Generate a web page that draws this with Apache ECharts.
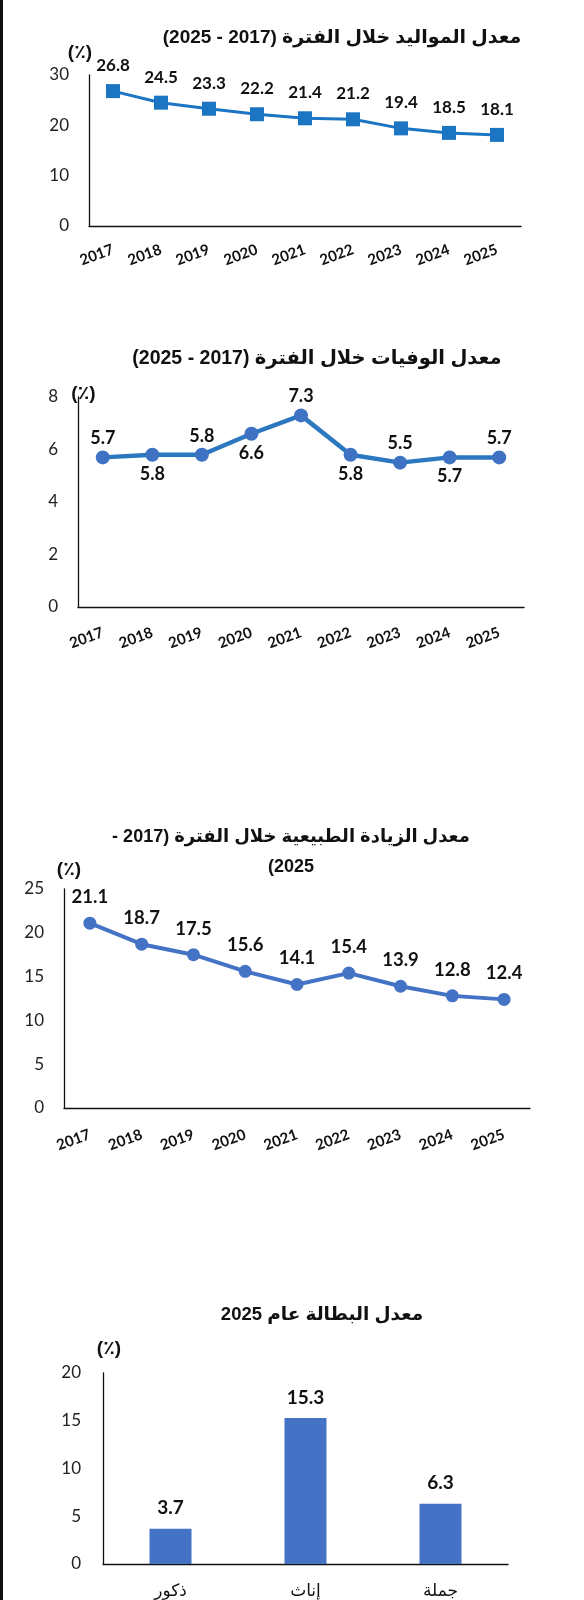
<!DOCTYPE html>
<html>
<head>
<meta charset="utf-8">
<script src="https://cdn.jsdelivr.net/npm/echarts@6/dist/echarts.min.js"></script>
<style>
  html, body { margin: 0; padding: 0; background: #fff; }
  #main { width: 584px; height: 1600px; direction: rtl; }
  .edge { position: absolute; left: 0; top: 0; width: 3px; height: 1600px; background: #111; }
</style>
</head>
<body>
<div id="main"></div>
<div class="edge"></div>
<script>
const years = ['2017', '2018', '2019', '2020', '2021', '2022', '2023', '2024', '2025'];
const birthRate = [26.8, 24.5, 23.3, 22.2, 21.4, 21.2, 19.4, 18.5, 18.1];
const deathRate = [5.7, 5.8, 5.8, 6.6, 7.3, 5.8, 5.5, 5.7, 5.7];
const naturalIncrease = [21.1, 18.7, 17.5, 15.6, 14.1, 15.4, 13.9, 12.8, 12.4];
const genderCats = ['ذكور', 'إناث', 'جملة'];
const unemployment = [3.7, 15.3, 6.3];

const titleFont = '"Liberation Sans", "DejaVu Sans", sans-serif';
const numFont = 'Lato, "Liberation Sans", sans-serif';

const chart = echarts.init(document.getElementById('main'));

function titleBox(text, x, y, size) {
    return {
        text: text,
        left: x,
        top: y,
        textAlign: 'center',
        textStyle: { fontFamily: titleFont, fontSize: size, fontWeight: 'bold', color: '#111', lineHeight: 30 }
    };
}

function yAx(idx, max, interval, gap, pad, margin) {
    return {
        gridIndex: idx,
        type: 'value',
        min: 0,
        max: max,
        interval: interval,
        name: '(٪)',
        nameLocation: 'end',
        nameGap: gap,
        nameTextStyle: { fontFamily: titleFont, fontSize: 19, fontWeight: 'bold', color: '#111', align: 'center', verticalAlign: 'middle', padding: pad },
        axisLine: { show: true, lineStyle: { color: '#111', width: 1.3 } },
        axisTick: { show: false },
        splitLine: { show: false },
        axisLabel: { fontFamily: numFont, fontSize: 17, color: '#222', margin: margin }
    };
}

function xAx(idx, data, rotate, margin) {
    return {
        gridIndex: idx,
        type: 'category',
        data: data,
        boundaryGap: true,
        axisLine: { lineStyle: { color: '#111', width: 1.3 } },
        axisTick: { show: false },
        axisLabel: rotate ? {
            rotate: rotate, margin: margin, interval: 0,
            fontFamily: numFont, fontSize: 15, fontWeight: 'bold', color: '#111'
        } : {
            margin: margin, interval: 0,
            fontFamily: titleFont, fontSize: 17, color: '#111'
        }
    };
}

function labelStyle(size) {
    return { fontFamily: numFont, fontSize: size, fontWeight: 'bold', color: '#111' };
}

let option = {
    animation: false,
    backgroundColor: '#fff',
    title: [
        titleBox('معدل المواليد خلال الفترة (2017 - 2025)', 337, 18, 19),
        titleBox('معدل الوفيات خلال الفترة (2017 - 2025)', 312, 339, 19.5),
        titleBox('معدل الزيادة الطبيعية خلال الفترة (2017 -\n2025)', 286, 817, 18),
        titleBox('معدل البطالة عام 2025', 317, 1295, 18.5)
    ],
    grid: [
        { left: 89, top: 75, width: 432, height: 151 },
        { left: 78, top: 397, width: 446, height: 210 },
        { left: 64, top: 889, width: 466, height: 219 },
        { left: 103, top: 1373, width: 405, height: 192 }
    ],
    xAxis: [
        xAx(0, years, 20, 23),
        xAx(1, years, 20, 25),
        xAx(2, years, 20, 26),
        xAx(3, genderCats, 0, 19)
    ],
    yAxis: [
        yAx(0, 30, 10, 22, [0, 18, 0, 0], 20),
        yAx(1, 8, 2, 3, [0, 0, 0, 11], 20),
        yAx(2, 25, 5, 19, [0, 0, 0, 10], 20),
        yAx(3, 20, 5, 24, [0, 0, 0, 12], 22)
    ],
    series: [
        {
            type: 'line', xAxisIndex: 0, yAxisIndex: 0,
            data: birthRate,
            symbol: 'rect', symbolSize: 14,
            lineStyle: { color: '#1b75c3', width: 3 },
            itemStyle: { color: '#1b75c3' },
            label: { show: true, position: 'top', distance: 10, ...labelStyle(17) }
        },
        {
            type: 'line', xAxisIndex: 1, yAxisIndex: 1,
            data: deathRate.map((v, i) => ({
                value: v,
                label: { position: i % 2 === 0 ? 'top' : 'bottom' }
            })),
            symbol: 'circle', symbolSize: 14,
            lineStyle: { color: '#2b78c0', width: 4.5 },
            itemStyle: { color: '#3f72c2' },
            label: { show: true, distance: 3, ...labelStyle(18) }
        },
        {
            type: 'line', xAxisIndex: 2, yAxisIndex: 2,
            data: naturalIncrease,
            symbol: 'circle', symbolSize: 13,
            lineStyle: { color: '#4472c4', width: 4 },
            itemStyle: { color: '#4472c4' },
            label: { show: true, position: 'top', distance: 10, ...labelStyle(18.5) }
        },
        {
            type: 'bar', xAxisIndex: 3, yAxisIndex: 3,
            data: unemployment,
            barWidth: 42,
            itemStyle: { color: '#4472c4' },
            label: { show: true, position: 'top', distance: 11, ...labelStyle(19) }
        }
    ]
};

chart.setOption(option);
</script>
</body>
</html>
